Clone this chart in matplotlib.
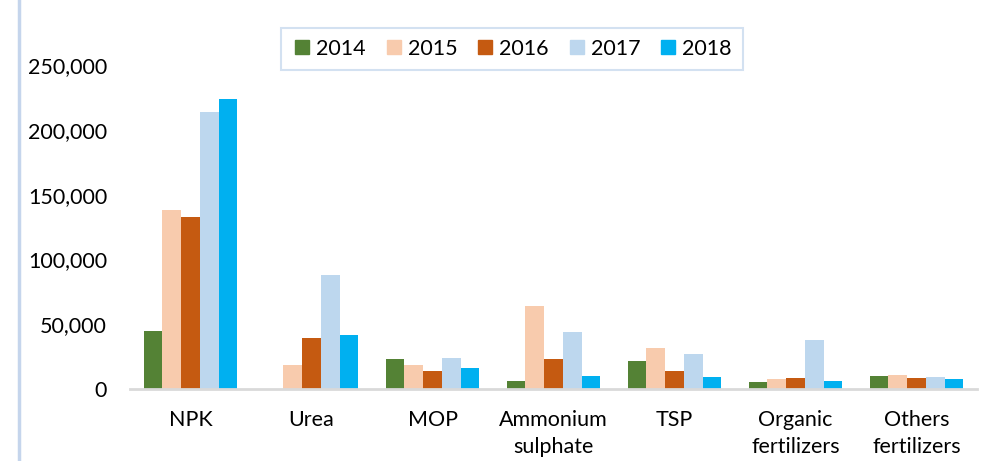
import matplotlib
matplotlib.use("Agg")
import matplotlib.pyplot as plt
import numpy as np
from matplotlib.lines import Line2D

categories = ["NPK", "Urea", "MOP", "Ammonium\nsulphate", "TSP", "Organic\nfertilizers", "Others\nfertilizers"]
years = ["2014", "2015", "2016", "2017", "2018"]
v2014 = [45000, 0, 22900, 6400, 21400, 5600, 10300]
v2015 = [138000, 18300, 18500, 64000, 31900, 7700, 10800]
v2016 = [132700, 39000, 13900, 23100, 13900, 8700, 8500]
v2017 = [213700, 88000, 24200, 43700, 26800, 37800, 9300]
v2018 = [223800, 41900, 16000, 9800, 9300, 5900, 7700]
series = [v2014, v2015, v2016, v2017, v2018]
colors = ["#548235", "#F8CBAD", "#C55A11", "#BDD7EE", "#00B0F0"]
yticks = [0, 50000, 100000, 150000, 200000, 250000]

plt.rcParams['font.family'] = ['Lato', 'DejaVu Sans']
W, H = 1007, 461
fig = plt.figure(figsize=(W/100, H/100), dpi=100)
ax = fig.add_axes([130/W, 1-389/H, (977-130)/W, (389-65)/H])

x = np.arange(len(categories))
bw = 0.155
for i, (vals, c) in enumerate(zip(series, colors)):
    ax.bar(x + (i-2)*bw, vals, width=bw, color=c, label=years[i], zorder=2)

ax.set_xlim(-0.5, len(categories)-0.5)
ax.set_ylim(0, 250000)
ax.set_yticks(yticks)
ax.set_yticklabels([f"{v:,}" for v in yticks], fontsize=15.5)
ax.set_xticks(x)
ax.set_xticklabels(categories, fontsize=15.5, linespacing=1.45, va='top')
ax.tick_params(axis='both', length=0)
ax.tick_params(axis='y', pad=16.5)
ax.tick_params(axis='x', pad=15)
for s in ['top', 'right', 'left']:
    ax.spines[s].set_visible(False)
ax.spines['bottom'].set_color('#D9D9D9')
ax.spines['bottom'].set_linewidth(2)

handles = [Line2D([], [], marker='s', linestyle='none', markersize=10.5, color=c) for c in colors]
leg = fig.legend(handles, years, loc='center', bbox_to_anchor=(512/W, 1-49/H), ncol=5,
                 fontsize=15.5, frameon=True, fancybox=False, handletextpad=0.2,
                 columnspacing=0.85, borderpad=0.5, handlelength=0.9)
leg.get_frame().set_edgecolor('#C9DAEE')
leg.get_frame().set_linewidth(1.5)

fig.add_artist(Line2D([19/W, 19/W], [0, 1], color='#C5D5EC', lw=2.5))

fig.savefig("out.png", dpi=100)
